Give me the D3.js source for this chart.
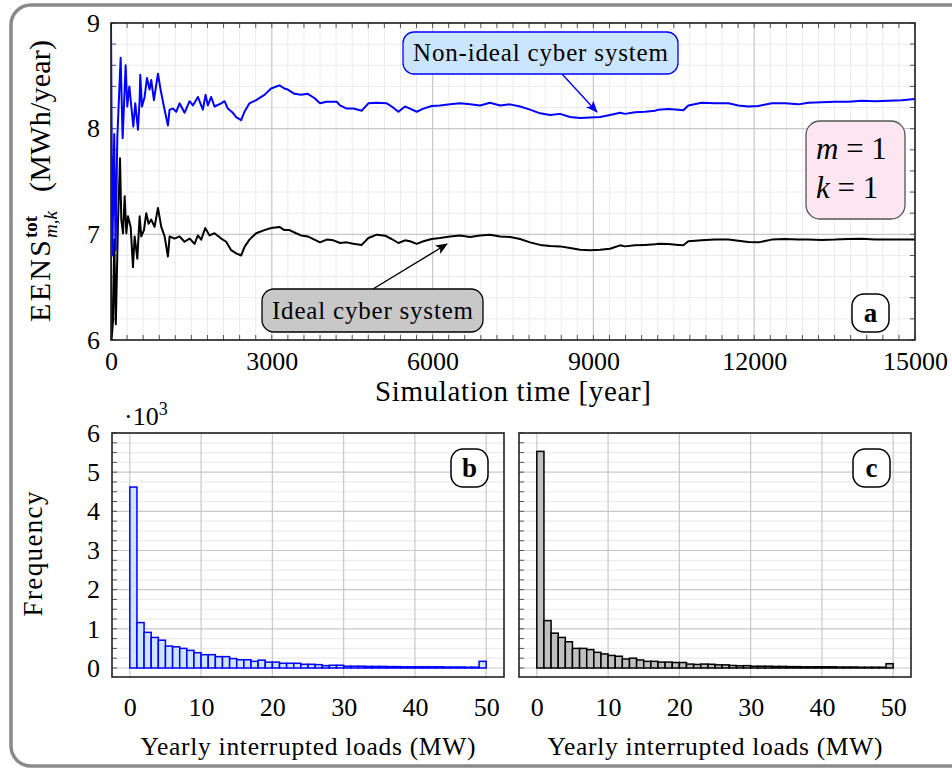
<!DOCTYPE html>
<html>
<head>
<meta charset="utf-8">
<script src="https://cdn.jsdelivr.net/npm/d3@7"></script>
<style>
body { margin: 0; background: #fff; }
text { font-family: "Liberation Serif", "DejaVu Serif", serif; fill: #000; }
</style>
</head>
<body>
<script>
// running EENS averages [year, MWh/year]
var nonIdeal = [[0,9.0],[25,6.8],[60,7.95],[85,6.85],[118,7.92],[180,8.67],[217,7.91],[273,8.60],[304,8.21],[342,8.40],
  [379,8.21],[416,8.02],[453,8.24],[503,7.99],[534,8.27],[546,8.51],[578,8.21],[627,8.30],[671,8.48],[720,8.37],
  [751,8.46],[801,8.27],[876,8.52],[925,8.37],[987,8.21],[1062,8.03],[1093,8.18],[1155,8.19],[1217,8.16],[1279,8.24],
  [1372,8.15],[1466,8.26],[1528,8.22],[1621,8.30],[1714,8.18],[1764,8.32],[1807,8.22],[1869,8.30],[1931,8.21],[2056,8.24],
  [2118,8.26],[2180,8.19],[2273,8.15],[2335,8.11],[2428,8.08],[2490,8.16],[2583,8.24],[2708,8.27],[2863,8.32],[2987,8.38],
  [3142,8.41],[3235,8.38],[3298,8.37],[3422,8.33],[3546,8.32],[3670,8.33],[3794,8.29],[3900,8.24],[4024,8.255],[4211,8.255],
  [4273,8.22],[4398,8.19],[4522,8.19],[4678,8.17],[4802,8.24],[4957,8.245],[5144,8.24],[5237,8.21],[5362,8.16],[5486,8.21],
  [5579,8.19],[5704,8.16],[5828,8.19],[5984,8.215],[6139,8.22],[6326,8.23],[6512,8.24],[6699,8.23],[6886,8.22],[7072,8.245],
  [7259,8.22],[7445,8.23],[7632,8.21],[7819,8.18],[8005,8.145],[8192,8.13],[8378,8.14],[8565,8.11],[8752,8.10],[8938,8.105],
  [9125,8.11],[9311,8.13],[9498,8.15],[9590,8.14],[9776,8.155],[9963,8.16],[10149,8.17],[10212,8.18],[10398,8.185],[10585,8.18],
  [10678,8.175],[10771,8.22],[11020,8.245],[11269,8.24],[11518,8.24],[11704,8.22],[11891,8.21],[12077,8.215],[12326,8.24],[12575,8.24],
  [12824,8.23],[13010,8.245],[13259,8.25],[13508,8.255],[13757,8.255],[14006,8.265],[14254,8.26],[14503,8.265],[14752,8.27],[15000,8.28]];

var ideal = [[0,6.8],[10,6.0],[40,6.2],[60,6.95],[90,6.15],[130,7.1],[168,7.72],[192,7.14],[224,7.01],[255,7.36],
  [286,7.01],[317,7.17],[367,7.07],[410,6.69],[441,6.98],[491,6.77],[534,7.17],[565,6.98],[615,7.04],[658,7.20],
  [702,7.10],[751,7.14],[813,7.07],[876,7.25],[938,7.07],[1000,6.98],[1062,6.79],[1093,6.98],[1186,6.96],[1279,6.98],
  [1372,6.93],[1466,6.96],[1559,6.91],[1621,6.99],[1683,6.95],[1758,7.06],[1838,6.99],[1931,7.01],[2056,6.96],[2149,6.93],
  [2242,6.85],[2335,6.82],[2428,6.80],[2490,6.88],[2583,6.95],[2708,7.01],[2863,7.04],[2987,7.06],[3142,7.07],[3235,7.04],
  [3329,7.04],[3453,7.01],[3546,6.99],[3670,6.98],[3900,6.924],[4024,6.95],[4149,6.943],[4273,6.918],[4398,6.924],[4522,6.91],
  [4678,6.90],[4802,6.965],[4957,6.997],[5113,6.987],[5237,6.956],[5362,6.918],[5486,6.943],[5579,6.934],[5704,6.91],[5828,6.934],
  [5984,6.956],[6139,6.965],[6326,6.98],[6512,6.99],[6699,6.975],[6886,6.99],[7072,6.997],[7259,6.98],[7445,6.975],[7632,6.956],
  [7819,6.924],[8005,6.90],[8192,6.89],[8378,6.886],[8565,6.87],[8752,6.855],[8938,6.85],[9125,6.855],[9311,6.864],[9498,6.896],
  [9590,6.886],[9776,6.896],[9963,6.90],[10149,6.905],[10212,6.91],[10398,6.908],[10585,6.90],[10678,6.896],[10771,6.934],[11020,6.943],
  [11269,6.95],[11518,6.95],[11704,6.94],[11891,6.927],[12077,6.924],[12326,6.95],[12575,6.956],[12824,6.95],[13010,6.95],[13259,6.947],
  [13508,6.95],[13757,6.956],[14006,6.959],[14254,6.95],[14503,6.95],[14752,6.95],[15000,6.95]];

// histogram of yearly interrupted load, bins of 1 MW from 0 to 50, frequency in 10^3
var freqNonIdeal = [4.62,1.16,0.91,0.78,0.71,0.56,0.54,0.50,0.45,0.39,0.34,0.34,0.29,0.29,0.24,0.21,0.21,0.17,0.20,0.15,
  0.15,0.12,0.12,0.12,0.094,0.094,0.085,0.06,0.07,0.07,0.045,0.045,0.045,0.04,0.04,0.04,0.035,0.035,0.03,0.03,
  0.03,0.03,0.03,0.03,0.025,0.025,0.025,0.02,0.02,0.17];
var freqIdeal = [5.53,1.21,0.89,0.78,0.67,0.50,0.50,0.47,0.40,0.36,0.32,0.30,0.23,0.25,0.205,0.17,0.17,0.15,0.15,0.14,
  0.14,0.10,0.09,0.10,0.095,0.08,0.08,0.065,0.055,0.06,0.045,0.045,0.045,0.04,0.04,0.035,0.035,0.03,0.03,0.03,
  0.03,0.03,0.025,0.025,0.025,0.02,0.02,0.02,0.02,0.11];

var simTicks = [0, 3000, 6000, 9000, 12000, 15000];
var eensTicks = [6, 7, 8, 9];
var loadTicks = [0, 10, 20, 30, 40, 50];
var freqTicks = [0, 1, 2, 3, 4, 5, 6];

var svg = d3.select("body").append("svg")
  .attr("width", 952)
  .attr("height", 768);

var defs = svg.append("defs");
function arrowMarker(id, color) {
  defs.append("marker")
    .attr("id", id)
    .attr("viewBox", "0 0 12 10").attr("refX", 11).attr("refY", 5)
    .attr("markerWidth", 12).attr("markerHeight", 10).attr("markerUnits", "userSpaceOnUse")
    .attr("orient", "auto")
    .append("path").attr("d", "M0,0 L12,5 L0,10 L3,5 Z").attr("fill", color);
}
arrowMarker("arrowBlue", "#0000ff");
arrowMarker("arrowBlack", "#000");

// outer rounded frame
svg.append("rect")
  .attr("x", 11).attr("y", 5)
  .attr("width", 980).attr("height", 761)
  .attr("rx", 20)
  .attr("fill", "none")
  .attr("stroke", "#8a8a8a")
  .attr("stroke-width", 3.5);

function styleTicks(sel) {
  sel.select(".domain").remove();
  sel.selectAll("text")
    .style("font-size", "26px")
    .style("font-family", "Liberation Serif, serif")
    .attr("fill", "#000");
}

// ---------- top panel (a) ----------
var pa = {left: 111, right: 915, top: 23, bottom: 340};
var x = d3.scaleLinear().domain([0, 15000]).range([pa.left, pa.right]);
var y = d3.scaleLinear().domain([6, 9]).range([pa.bottom, pa.top]);

var gA = svg.append("g");

gA.append("g").selectAll("line")
  .data(d3.range(0, 15001, 300).filter(function(d){ return d % 3000 != 0; }))
  .enter().append("line")
  .attr("x1", function(d){ return x(d); }).attr("x2", function(d){ return x(d); })
  .attr("y1", pa.top).attr("y2", pa.bottom)
  .attr("stroke", "#ebebeb").attr("stroke-width", 1);
gA.append("g").selectAll("line")
  .data(d3.range(6, 9.001, 0.2).filter(function(d){ return Math.abs(d - Math.round(d)) > 0.01; }))
  .enter().append("line")
  .attr("x1", pa.left).attr("x2", pa.right)
  .attr("y1", function(d){ return y(d); }).attr("y2", function(d){ return y(d); })
  .attr("stroke", "#ebebeb").attr("stroke-width", 1);
gA.append("g").selectAll("line")
  .data(simTicks)
  .enter().append("line")
  .attr("x1", function(d){ return x(d); }).attr("x2", function(d){ return x(d); })
  .attr("y1", pa.top).attr("y2", pa.bottom)
  .attr("stroke", "#c8c8c8").attr("stroke-width", 1.2);
gA.append("g").selectAll("line")
  .data(eensTicks)
  .enter().append("line")
  .attr("x1", pa.left).attr("x2", pa.right)
  .attr("y1", function(d){ return y(d); }).attr("y2", function(d){ return y(d); })
  .attr("stroke", "#c8c8c8").attr("stroke-width", 1.2);

// inner tick marks on all four sides
var tickG = gA.append("g").attr("stroke", "#555").attr("stroke-width", 1);
d3.range(0, 15001, 300).forEach(function(d){
  tickG.append("line").attr("x1", x(d)).attr("x2", x(d)).attr("y1", pa.bottom).attr("y2", pa.bottom - 5);
  tickG.append("line").attr("x1", x(d)).attr("x2", x(d)).attr("y1", pa.top).attr("y2", pa.top + 5);
});
d3.range(6, 9.001, 0.2).forEach(function(d){
  tickG.append("line").attr("x1", pa.left).attr("x2", pa.left + 5).attr("y1", y(d)).attr("y2", y(d));
  tickG.append("line").attr("x1", pa.right).attr("x2", pa.right - 5).attr("y1", y(d)).attr("y2", y(d));
});

defs.append("clipPath").attr("id", "clipA")
  .append("rect").attr("x", pa.left).attr("y", pa.top)
  .attr("width", pa.right - pa.left).attr("height", pa.bottom - pa.top);

var line = d3.line()
  .x(function(d){ return x(d[0]); })
  .y(function(d){ return y(d[1]); });

gA.append("path").datum(ideal)
  .attr("clip-path", "url(#clipA)")
  .attr("fill", "none").attr("stroke", "#000").attr("stroke-width", 2)
  .attr("stroke-linejoin", "round")
  .attr("d", line);
gA.append("path").datum(nonIdeal)
  .attr("clip-path", "url(#clipA)")
  .attr("fill", "none").attr("stroke", "#0000ff").attr("stroke-width", 2)
  .attr("stroke-linejoin", "round")
  .attr("d", line);

gA.append("rect")
  .attr("x", pa.left).attr("y", pa.top)
  .attr("width", pa.right - pa.left).attr("height", pa.bottom - pa.top)
  .attr("fill", "none").attr("stroke", "#222").attr("stroke-width", 1.6);

gA.append("g")
  .attr("transform", "translate(0," + pa.bottom + ")")
  .call(d3.axisBottom(x).tickValues(simTicks).tickSize(0).tickPadding(12).tickFormat(d3.format("d")))
  .call(styleTicks);

gA.append("g")
  .attr("transform", "translate(" + pa.left + ",0)")
  .call(d3.axisLeft(y).tickValues(eensTicks).tickSize(0).tickPadding(11).tickFormat(d3.format("d")))
  .call(styleTicks);

svg.append("text")
  .attr("x", 513).attr("y", 401)
  .attr("text-anchor", "middle")
  .attr("textLength", 276).attr("lengthAdjust", "spacing")
  .style("font-size", "29px")
  .text("Simulation time [year]");

// rotated EENS label
var yl = svg.append("g").attr("transform", "translate(50,322) rotate(-90)");
yl.append("text").attr("x", 0).attr("y", 0)
  .attr("textLength", 82).attr("lengthAdjust", "spacing")
  .style("font-size", "30px").text("EENS");
yl.append("text").attr("x", 84).attr("y", -13).style("font-size", "19px").style("font-weight", "bold").text("tot");
yl.append("text").attr("x", 84).attr("y", 7).style("font-size", "19px").style("font-style", "italic").text("m,k");
yl.append("text").attr("x", 130).attr("y", 0)
  .attr("textLength", 152).attr("lengthAdjust", "spacing")
  .style("font-size", "30px").text("(MWh/year)");

// callouts
svg.append("line")
  .attr("x1", 562).attr("y1", 74).attr("x2", 597).attr("y2", 112)
  .attr("stroke", "#0000ff").attr("stroke-width", 1.4)
  .attr("marker-end", "url(#arrowBlue)");
svg.append("rect")
  .attr("x", 403).attr("y", 32).attr("width", 275).attr("height", 42).attr("rx", 11)
  .attr("fill", "#cce5ff").attr("stroke", "#0000ff").attr("stroke-width", 1.3);
svg.append("text")
  .attr("x", 540.5).attr("y", 61).attr("text-anchor", "middle")
  .attr("textLength", 255).attr("lengthAdjust", "spacing")
  .style("font-size", "25px").text("Non-ideal cyber system");

svg.append("line")
  .attr("x1", 373).attr("y1", 289).attr("x2", 447).attr("y2", 244)
  .attr("stroke", "#000").attr("stroke-width", 1.4)
  .attr("marker-end", "url(#arrowBlack)");
svg.append("rect")
  .attr("x", 262).attr("y", 289).attr("width", 221).attr("height", 43).attr("rx", 12)
  .attr("fill", "#c8c8c8").attr("stroke", "#000").attr("stroke-width", 1.3);
svg.append("text")
  .attr("x", 372.5).attr("y", 319).attr("text-anchor", "middle")
  .attr("textLength", 201).attr("lengthAdjust", "spacing")
  .style("font-size", "25px").text("Ideal cyber system");

svg.append("rect")
  .attr("x", 806).attr("y", 121).attr("width", 99).attr("height", 98).attr("rx", 14)
  .attr("fill", "#fde6f1").attr("stroke", "#555").attr("stroke-width", 1.3);
[["m", 159], ["k", 198]].forEach(function(d){
  var t = svg.append("text").attr("x", 816).attr("y", d[1])
    .style("font-size", "31px");
  t.append("tspan").style("font-style", "italic").text(d[0]);
  t.append("tspan").text(" = 1");
});

function panelLabel(px, py, w, h, s) {
  svg.append("rect").attr("x", px).attr("y", py).attr("width", w).attr("height", h).attr("rx", 12)
    .attr("fill", "#fff").attr("stroke", "#000").attr("stroke-width", 1.5);
  svg.append("text").attr("x", px + w / 2).attr("y", py + h / 2 + 9)
    .attr("text-anchor", "middle").style("font-size", "27px").style("font-weight", "bold").text(s);
}
panelLabel(852, 294, 37, 38, "a");

// ---------- histograms (b, c) ----------
function histogram(left, right, values, fill, stroke, showY) {
  var ptop = 433, pbottom = 677;
  var hx = d3.scaleLinear().domain([-2.5, 52.5]).range([left, right]);
  var hy = d3.scaleLinear().domain([-0.23, 6]).range([pbottom, ptop]);
  var g = svg.append("g");

  g.append("g").selectAll("line")
    .data(d3.range(0, 6.01, 0.25).filter(function(d){ return d % 1 != 0; }))
    .enter().append("line")
    .attr("x1", left).attr("x2", right)
    .attr("y1", function(d){ return hy(d); }).attr("y2", function(d){ return hy(d); })
    .attr("stroke", "#ececec").attr("stroke-width", 1.2);
  g.append("g").selectAll("line")
    .data(freqTicks)
    .enter().append("line")
    .attr("x1", left).attr("x2", right)
    .attr("y1", function(d){ return hy(d); }).attr("y2", function(d){ return hy(d); })
    .attr("stroke", "#c8c8c8").attr("stroke-width", 1.2);
  g.append("g").selectAll("line")
    .data(loadTicks)
    .enter().append("line")
    .attr("x1", function(d){ return hx(d); }).attr("x2", function(d){ return hx(d); })
    .attr("y1", ptop).attr("y2", pbottom)
    .attr("stroke", "#c8c8c8").attr("stroke-width", 1.2);

  var tk = g.append("g").attr("stroke", "#555").attr("stroke-width", 1);
  d3.range(0, 6.01, 0.25).forEach(function(d){
    tk.append("line").attr("x1", left).attr("x2", left + 5).attr("y1", hy(d)).attr("y2", hy(d));
  });

  g.append("g").selectAll("rect")
    .data(values)
    .enter().append("rect")
    .attr("x", function(d, i){ return hx(i); })
    .attr("width", function(d, i){ return hx(i + 1) - hx(i); })
    .attr("y", function(d){ return hy(d); })
    .attr("height", function(d){ return hy(0) - hy(d); })
    .attr("fill", fill).attr("stroke", stroke).attr("stroke-width", 1.5);

  g.append("rect")
    .attr("x", left).attr("y", ptop).attr("width", right - left).attr("height", pbottom - ptop)
    .attr("fill", "none").attr("stroke", "#222").attr("stroke-width", 1.6);

  g.append("g").attr("transform", "translate(0," + pbottom + ")")
    .call(d3.axisBottom(hx).tickValues(loadTicks).tickSize(0).tickPadding(21))
    .call(styleTicks);

  if (showY) {
    g.append("g").attr("transform", "translate(" + left + ",0)")
      .call(d3.axisLeft(hy).tickValues(freqTicks).tickSize(0).tickPadding(12).tickFormat(d3.format("d")))
      .call(styleTicks);
  }

  svg.append("text")
    .attr("x", (left + right) / 2).attr("y", 755)
    .attr("text-anchor", "middle")
    .attr("textLength", 335).attr("lengthAdjust", "spacing")
    .style("font-size", "25.5px")
    .text("Yearly interrupted loads (MW)");
}

histogram(112, 504, freqNonIdeal, "#cfe5ff", "#0000ff", true);
histogram(519, 911, freqIdeal, "#c0c0c0", "#000", false);

panelLabel(451, 449, 37, 38, "b");
panelLabel(853, 449, 37, 38, "c");

var mult = svg.append("text").attr("x", 124).attr("y", 425).style("font-size", "26px");
mult.append("tspan").text("·10");
mult.append("tspan").attr("dy", -10).style("font-size", "18px").text("3");

svg.append("text")
  .attr("transform", "translate(42,554) rotate(-90)")
  .attr("text-anchor", "middle")
  .attr("textLength", 125).attr("lengthAdjust", "spacing")
  .style("font-size", "27px")
  .text("Frequency");
</script>
</body>
</html>
